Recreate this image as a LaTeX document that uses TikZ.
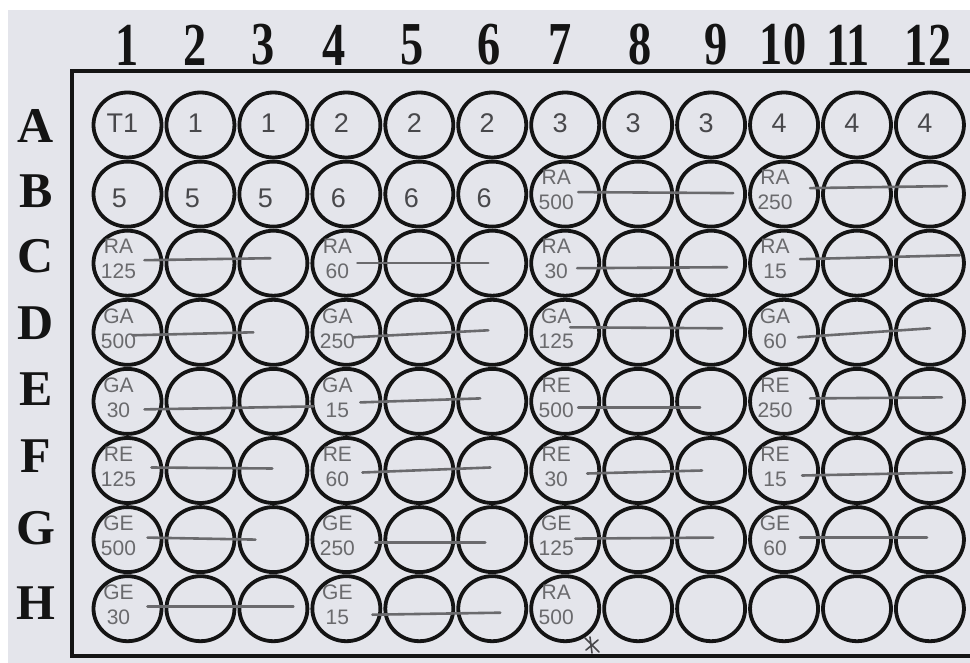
\documentclass[tikz,border=0pt]{standalone}
\usepackage{fontspec}
\setmainfont{Liberation Serif}
\newfontfamily\hwfont{Liberation Sans}
\usetikzlibrary{shapes.geometric}
\definecolor{paper}{HTML}{E4E5EB}
\definecolor{ink}{HTML}{141414}
\definecolor{pencil}{HTML}{6A6A6D}
\definecolor{pen}{HTML}{48484B}
\tikzset{
  well/.style={ellipse, draw=ink, line width=3.8pt, minimum width=68pt, minimum height=65pt, inner sep=0pt},
  collbl/.style={font=\bfseries\fontsize{61}{61}\selectfont, text=ink, inner sep=0pt},
  rowlbl/.style={font=\bfseries\fontsize{50}{50}\selectfont, text=ink, inner sep=0pt},
  pendigit/.style={font=\hwfont\fontsize{27}{27}\selectfont, text=pen, inner sep=0pt},
  hwlabel/.style={font=\hwfont\fontsize{21}{25}\selectfont, text=pencil, align=center, inner sep=0pt},
  pencilline/.style={draw=pencil, line width=2.6pt, line cap=round}
}
\begin{document}
\begin{tikzpicture}[x=1pt,y=-1pt]
\useasboundingbox (0,0) rectangle (970,663);
\fill[white] (0,0) rectangle (970,663);
\fill[paper] (8,10) rectangle (970,663);
% frame
\draw[ink, line width=4pt] (970,71) -- (72,71) -- (72,656) -- (970,656);
% column labels
\foreach \n/\x in {1/127,2/195,3/263,4/334,5/412,6/489,7/560,8/640,9/716,10/783,11/848,12/928}
  \node[collbl] (col-\n) at (\x,45) {\scalebox{0.76}[1]{\n}};
% row labels
\foreach \r/\y in {A/126,B/191,C/256,D/323,E/389,F/456,G/528,H/603}
  \node[rowlbl] (row-\r) at (36,\y) {\r};
% wells
\foreach \r [count=\i from 0] in {A,B,C,D,E,F,G,H}
  \foreach \c in {1,...,12}
    \node[well] (w-\r-\c) at ({127.5+(\c-1)*72.95},{125+\i*69.1}) {};
% row A and B pen digits
\foreach \c/\t in {1/T1,2/1,3/1,4/2,5/2,6/2,7/3,8/3,9/3,10/4,11/4,12/4}
  \node[pendigit] (ta-\c) at ([shift={(-5,-2)}]w-A-\c.center) {\t};
\foreach \c/\t in {1/5,2/5,3/5,4/6,5/6,6/6}
  \node[pendigit] (tb-\c) at ([shift={(-8,4)}]w-B-\c.center) {\t};
% pencil labels
\foreach \r/\c/\a/\b in {B/7/RA/500,B/10/RA/250,
  C/1/RA/125,C/4/RA/60,C/7/RA/30,C/10/RA/15,
  D/1/GA/500,D/4/GA/250,D/7/GA/125,D/10/GA/60,
  E/1/GA/30,E/4/GA/15,E/7/RE/500,E/10/RE/250,
  F/1/RE/125,F/4/RE/60,F/7/RE/30,F/10/RE/15,
  G/1/GE/500,G/4/GE/250,G/7/GE/125,G/10/GE/60,
  H/1/GE/30,H/4/GE/15,H/7/RA/500}
  \node[hwlabel] (lb-\r-\c) at ([shift={(-9,-4)}]w-\r-\c.center) {\a\\\b};
% pencil lines
\foreach \r/\ca/\xa/\ya/\cb/\xb/\yb in {
  B/7/13/-2/9/22/-1, B/10/26/-6/12/17/-8,
  C/1/17/-3/3/-3/-5, C/4/11/0/6/-4/0, C/7/12/5/9/16/4, C/10/16/-4/12/30/-8,
  D/1/5/3/3/-20/0, D/4/7/5/6/-4/-2, D/7/5/-5/9/11/-4, D/10/14/5/12/0/-4,
  E/1/17/8/4/-33/5, E/4/14/1/6/-12/-3, E/7/13/6/9/-11/6, E/10/26/-3/12/12/-4,
  F/1/24/-3/3/-1/-2, F/4/16/2/6/-2/-3, F/7/22/3/9/-9/0, F/10/18/5/12/22/2,
  G/1/20/-2/3/-18/0, G/4/29/3/6/-7/3, G/7/10/-1/9/2/-2, G/10/16/-2/12/-3/-2,
  H/1/20/-2/3/20/-2, H/4/26/6/6/8/4}
  \draw[pencilline] ([shift={(\xa,\ya)}]w-\r-\ca.center) -- ([shift={(\xb,\yb)}]w-\r-\cb.center);
% small pencil mark below H7
\coordinate (mk) at (592,645);
\draw[draw=pen, line width=1.6pt, line cap=round]
  ([shift={(-7,-7)}]mk) -- ([shift={(7,7)}]mk)
  ([shift={(-6,5)}]mk) -- ([shift={(6,-5)}]mk)
  ([shift={(-2,-8)}]mk) -- ([shift={(0,8)}]mk);
\end{tikzpicture}
\end{document}
